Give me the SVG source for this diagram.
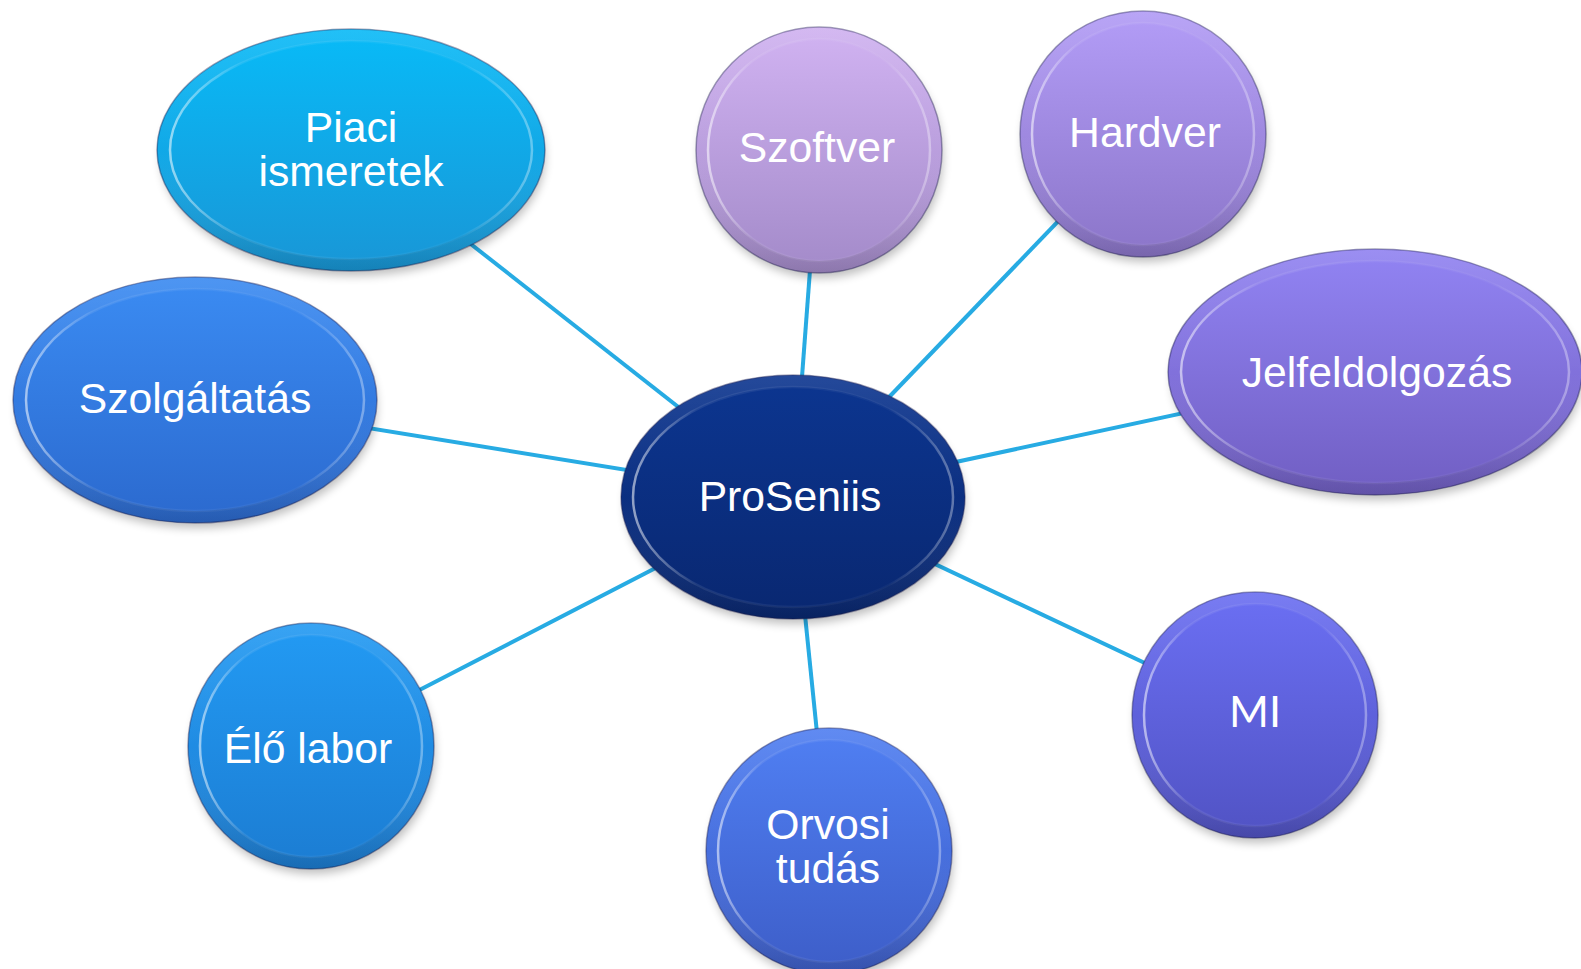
<svg xmlns="http://www.w3.org/2000/svg" width="1581" height="969" viewBox="0 0 1581 969">
<style>
.conn{stroke:#27ABE3;stroke-width:4;fill:none}
.lbl{font-family:"Liberation Sans",Arial,sans-serif;font-size:42.7px;fill:#FFFFFF;text-anchor:middle}
.lbl2{font-family:Lato,"Open Sans",sans-serif;font-size:43px;fill:#FFFFFF;text-anchor:middle}
.shadow{fill:#000;opacity:0.25;filter:url(#blur)}
.edge{stroke:#1a1a4a;stroke-opacity:0.4;stroke-width:1.5}
.shade{fill:url(#ringShade)}
.rim{stroke:url(#rimHi);stroke-width:2.5}
</style>
<defs>
<filter id="blur" x="-20%" y="-20%" width="140%" height="140%"><feGaussianBlur stdDeviation="5"/></filter>
<linearGradient id="ringShade" x1="0" y1="0" x2="0" y2="1">
<stop offset="0" stop-color="#fff" stop-opacity="0.1"/>
<stop offset="0.5" stop-color="#fff" stop-opacity="0"/>
<stop offset="1" stop-color="#000" stop-opacity="0.15"/>
</linearGradient>
<linearGradient id="rimHi" x1="0" y1="0" x2="1" y2="0">
<stop offset="0" stop-color="#fff" stop-opacity="0.55"/>
<stop offset="0.2" stop-color="#fff" stop-opacity="0.08"/>
<stop offset="0.8" stop-color="#fff" stop-opacity="0.03"/>
<stop offset="1" stop-color="#fff" stop-opacity="0.35"/>
</linearGradient>
<linearGradient id="gPiaci" x1="0" y1="0" x2="0" y2="1"><stop offset="0" stop-color="#09B9F6"/><stop offset="1" stop-color="#1898D8"/></linearGradient>
<linearGradient id="gSzolg" x1="0" y1="0" x2="0" y2="1"><stop offset="0" stop-color="#3A8AF1"/><stop offset="1" stop-color="#2C6BD0"/></linearGradient>
<linearGradient id="gElo" x1="0" y1="0" x2="0" y2="1"><stop offset="0" stop-color="#2299F2"/><stop offset="1" stop-color="#1C7ED4"/></linearGradient>
<linearGradient id="gPro" x1="0" y1="0" x2="0" y2="1"><stop offset="0" stop-color="#0C358F"/><stop offset="1" stop-color="#092872"/></linearGradient>
<linearGradient id="gSzoft" x1="0" y1="0" x2="0" y2="1"><stop offset="0" stop-color="#CFB1F0"/><stop offset="1" stop-color="#A58CCB"/></linearGradient>
<linearGradient id="gHard" x1="0" y1="0" x2="0" y2="1"><stop offset="0" stop-color="#B19BF5"/><stop offset="1" stop-color="#8D77CB"/></linearGradient>
<linearGradient id="gJelf" x1="0" y1="0" x2="0" y2="1"><stop offset="0" stop-color="#9082F1"/><stop offset="1" stop-color="#7260C5"/></linearGradient>
<linearGradient id="gMI" x1="0" y1="0" x2="0" y2="1"><stop offset="0" stop-color="#6A6EF1"/><stop offset="1" stop-color="#5254C6"/></linearGradient>
<linearGradient id="gOrv" x1="0" y1="0" x2="0" y2="1"><stop offset="0" stop-color="#4F7EF1"/><stop offset="1" stop-color="#3E5FCA"/></linearGradient>
</defs>
<rect width="1581" height="969" fill="#FFFFFF"/>

<g id="connectors">
<line class="conn" x1="793" y1="497" x2="351" y2="150"/>
<line class="conn" x1="793" y1="497" x2="819" y2="150"/>
<line class="conn" x1="793" y1="497" x2="1143" y2="133"/>
<line class="conn" x1="793" y1="497" x2="1374" y2="372"/>
<line class="conn" x1="793" y1="497" x2="1255" y2="715"/>
<line class="conn" x1="793" y1="497" x2="829" y2="851"/>
<line class="conn" x1="793" y1="497" x2="311" y2="746"/>
<line class="conn" x1="793" y1="497" x2="195" y2="400"/>
</g>

<g id="node-center">
<ellipse class="shadow" cx="795" cy="504" rx="170" ry="120"/>
<ellipse class="edge" cx="793" cy="497" rx="172" ry="122" fill="url(#gPro)"/>
<ellipse class="shade" cx="793" cy="497" rx="172" ry="122"/>
<ellipse class="rim" cx="793" cy="497" rx="160" ry="110" fill="url(#gPro)"/>
<text class="lbl" x="790" y="511">ProSeniis</text>
</g>

<g id="node-piaci">
<ellipse class="shadow" cx="353" cy="157" rx="192" ry="119"/>
<ellipse class="edge" cx="351" cy="150" rx="194" ry="121" fill="url(#gPiaci)"/>
<ellipse class="shade" cx="351" cy="150" rx="194" ry="121"/>
<ellipse class="rim" cx="351" cy="150" rx="181" ry="109" fill="url(#gPiaci)"/>
<text class="lbl" x="351" y="142">Piaci</text>
<text class="lbl" x="351" y="186">ismeretek</text>
</g>

<g id="node-szoftver">
<ellipse class="shadow" cx="821" cy="157" rx="122" ry="121"/>
<circle class="edge" cx="819" cy="150" r="123" fill="url(#gSzoft)"/>
<circle class="shade" cx="819" cy="150" r="123"/>
<circle class="rim" cx="819" cy="150" r="111" fill="url(#gSzoft)"/>
<text class="lbl" x="817" y="162">Szoftver</text>
</g>

<g id="node-hardver">
<ellipse class="shadow" cx="1145" cy="141" rx="122" ry="121"/>
<circle class="edge" cx="1143" cy="134" r="123" fill="url(#gHard)"/>
<circle class="shade" cx="1143" cy="134" r="123"/>
<circle class="rim" cx="1143" cy="134" r="111" fill="url(#gHard)"/>
<text class="lbl" x="1145" y="147">Hardver</text>
</g>

<g id="node-jelf">
<ellipse class="shadow" cx="1377" cy="379" rx="205" ry="121"/>
<ellipse class="edge" cx="1375" cy="372" rx="207" ry="123" fill="url(#gJelf)"/>
<ellipse class="shade" cx="1375" cy="372" rx="207" ry="123"/>
<ellipse class="rim" cx="1375" cy="372" rx="194" ry="111" fill="url(#gJelf)"/>
<text class="lbl" x="1377" y="387">Jelfeldolgozás</text>
</g>

<g id="node-mi">
<ellipse class="shadow" cx="1257" cy="722" rx="122" ry="121"/>
<circle class="edge" cx="1255" cy="715" r="123" fill="url(#gMI)"/>
<circle class="shade" cx="1255" cy="715" r="123"/>
<circle class="rim" cx="1255" cy="715" r="111" fill="url(#gMI)"/>
<text class="lbl2" x="1255" y="727">MI</text>
</g>

<g id="node-orvosi">
<ellipse class="shadow" cx="831" cy="858" rx="122" ry="121"/>
<circle class="edge" cx="829" cy="851" r="123" fill="url(#gOrv)"/>
<circle class="shade" cx="829" cy="851" r="123"/>
<circle class="rim" cx="829" cy="851" r="111" fill="url(#gOrv)"/>
<text class="lbl" x="828" y="839">Orvosi</text>
<text class="lbl" x="828" y="883">tudás</text>
</g>

<g id="node-elo">
<ellipse class="shadow" cx="313" cy="753" rx="122" ry="121"/>
<circle class="edge" cx="311" cy="746" r="123" fill="url(#gElo)"/>
<circle class="shade" cx="311" cy="746" r="123"/>
<circle class="rim" cx="311" cy="746" r="111" fill="url(#gElo)"/>
<text class="lbl" x="308" y="763">Élő labor</text>
</g>

<g id="node-szolg">
<ellipse class="shadow" cx="197" cy="407" rx="180" ry="121"/>
<ellipse class="edge" cx="195" cy="400" rx="182" ry="123" fill="url(#gSzolg)"/>
<ellipse class="shade" cx="195" cy="400" rx="182" ry="123"/>
<ellipse class="rim" cx="195" cy="400" rx="169" ry="111" fill="url(#gSzolg)"/>
<text class="lbl" x="195" y="413">Szolgáltatás</text>
</g>
</svg>
